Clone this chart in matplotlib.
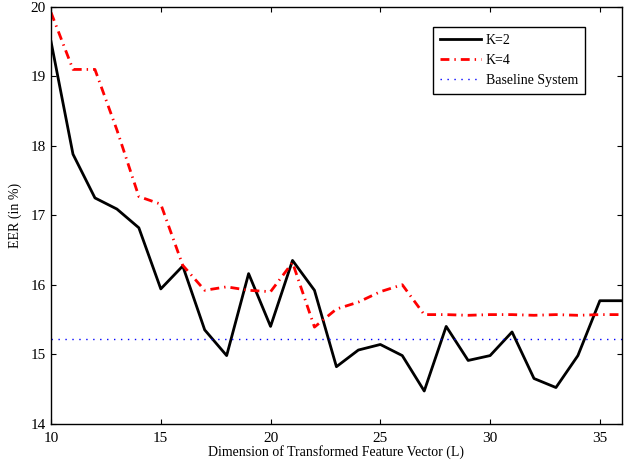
import matplotlib
matplotlib.use('Agg')
import matplotlib.pyplot as plt

# ── Data ──────────────────────────────────────────────────────────────────────
dims = list(range(10, 37))
eer_k2 = [19.50, 17.88, 17.25, 17.09, 16.82, 15.94, 16.27, 15.35, 14.98, 16.16,
          15.40, 16.35, 15.92, 14.82, 15.06, 15.14, 14.98, 14.47, 15.40, 14.91,
          14.98, 15.32, 14.65, 14.52, 14.98, 15.77, 15.77]
eer_k4 = [19.92, 19.10, 19.10, 18.23, 17.27, 17.16, 16.28, 15.92, 15.97, 15.92,
          15.90, 16.32, 15.39, 15.65, 15.75, 15.90, 16.00, 15.57, 15.57, 15.56,
          15.57, 15.57, 15.56, 15.57, 15.56, 15.57, 15.57]
baseline_eer = 15.22

x_ticks = [10, 15, 20, 25, 30, 35]
y_ticks = [14, 15, 16, 17, 18, 19, 20]

plt.rcParams['font.family'] = ['Liberation Serif', 'DejaVu Serif']

fig = plt.figure(figsize=(6.3, 4.62), dpi=100)
ax = fig.add_axes([0.081, 0.083, 0.906, 0.902])

ax.plot(dims, eer_k2, color='black', linewidth=2.0, label='K=2')
ax.plot(dims, eer_k4, color='red', linewidth=2.0,
        linestyle=(0, (3.2, 1.8, 0.5, 1.8)), label='K=4')
ax.axhline(baseline_eer, color='blue', linewidth=1.0, linestyle=(0, (1, 4)),
           label='Baseline System')

ax.set_xlim(10, 36)
ax.set_ylim(14, 20)
ax.set_xticks(x_ticks)
ax.set_yticks(y_ticks)
ax.tick_params(direction='in', top=True, right=True, labelsize=11, length=3.5)
ax.tick_params(axis='x', pad=6)
ax.tick_params(axis='y', pad=4)
for s in ax.spines.values():
    s.set_linewidth(1.0)

ax.set_xlabel('Dimension of Transformed Feature Vector (L)', fontsize=10, labelpad=0)
ax.set_ylabel('EER (in %)', fontsize=10, labelpad=6)

leg = ax.legend(loc='upper right', bbox_to_anchor=(0.935, 0.952), borderaxespad=0,
                fontsize=10, fancybox=False, edgecolor='black', framealpha=1,
                handlelength=3.0, handletextpad=0.3, borderpad=0.5,
                labelspacing=0.5)
leg.get_frame().set_linewidth(1.0)

fig.savefig('out.png', dpi=100)
